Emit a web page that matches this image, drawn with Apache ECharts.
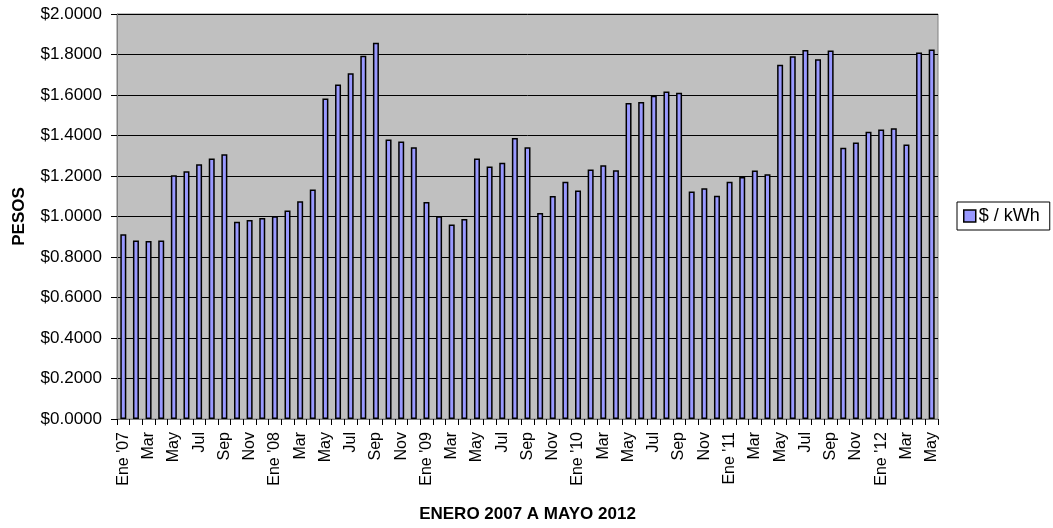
<!DOCTYPE html>
<html><head><meta charset="utf-8">
<script src="https://cdn.jsdelivr.net/npm/echarts@6/dist/echarts.min.js"></script>
<style>html,body{margin:0;padding:0;background:#fff}#c{width:1053px;height:528px}</style>
</head><body><div id="c"></div>
<script>
const categories = [
 "Ene '07","Feb","Mar","Abr","May","Jun","Jul","Ago","Sep","Oct","Nov","Dic",
 "Ene '08","Feb","Mar","Abr","May","Jun","Jul","Ago","Sep","Oct","Nov","Dic",
 "Ene '09","Feb","Mar","Abr","May","Jun","Jul","Ago","Sep","Oct","Nov","Dic",
 "Ene '10","Feb","Mar","Abr","May","Jun","Jul","Ago","Sep","Oct","Nov","Dic",
 "Ene '11","Feb","Mar","Abr","May","Jun","Jul","Ago","Sep","Oct","Nov","Dic",
 "Ene '12","Feb","Mar","Abr","May"
];
const pesosPerKWh = [
 0.912,0.882,0.879,0.882,1.204,1.223,1.258,1.286,1.307,0.974,0.983,0.993,
 1.001,1.030,1.075,1.133,1.583,1.652,1.708,1.794,1.858,1.380,1.370,1.342,
 1.072,1.001,0.960,0.988,1.286,1.247,1.266,1.388,1.342,1.017,1.101,1.171,
 1.128,1.232,1.253,1.228,1.561,1.566,1.596,1.617,1.611,1.123,1.139,1.103,
 1.172,1.195,1.227,1.209,1.749,1.791,1.822,1.777,1.820,1.339,1.365,1.418,
 1.430,1.436,1.355,1.810,1.825
];
const seriesName = '$ / kWh';
const yAxisName = 'PESOS';
const xAxisName = 'ENERO 2007 A MAYO 2012';
const FONT = "'Liberation Sans', Arial, sans-serif";

const chart = echarts.init(document.getElementById('c'));
chart.setOption({
  animation: false,
  textStyle: {fontFamily: FONT},
  grid: {left: 117, right: 115, top: 14, bottom: 109, show: true,
         backgroundColor: '#c0c0c0', borderColor: '#808080', borderWidth: 1},
  legend: {
    left: 957, top: 202, orient: 'vertical',
    borderColor: '#000', borderWidth: 1, padding: [5, 10, 5, 6],
    itemWidth: 12, itemHeight: 12,
    textStyle: {fontFamily: FONT, fontSize: 18, color: '#000', padding: [0,0,0,-2]},
    data: [{name: seriesName, icon: 'rect', itemStyle: {color: '#9999ff', borderColor: '#000', borderWidth: 1.5}}]
  },
  xAxis: {
    type: 'category', data: categories,
    name: xAxisName, nameLocation: 'middle', nameGap: 87,
    nameTextStyle: {fontFamily: FONT, fontSize: 17, fontWeight: 'bold', color: '#000'},
    axisLine: {lineStyle: {color: '#808080', width: 1}},
    axisTick: {show: true, interval: 0, length: 6, lineStyle: {color: '#000'}},
    axisLabel: {interval: 1, rotate: 90, fontFamily: FONT, fontSize: 16, color: '#000', margin: 13},
    splitLine: {show: false}
  },
  yAxis: {
    type: 'value', min: 0, max: 2, interval: 0.2,
    name: yAxisName, nameLocation: 'middle', nameGap: 89, nameRotate: 90,
    nameTextStyle: {fontFamily: FONT, fontSize: 17, fontWeight: 'bold', color: '#000'},
    axisLine: {show: true, lineStyle: {color: '#808080', width: 1}},
    axisTick: {show: true, length: 6, lineStyle: {color: '#000'}},
    axisLabel: {fontFamily: FONT, fontSize: 17, color: '#000', margin: 15,
      formatter: v => '$' + v.toFixed(4)},
    splitLine: {show: true, lineStyle: {color: '#000', width: 1}}
  },
  series: [{
    name: seriesName, type: 'bar', data: pesosPerKWh, barWidth: 6,
    itemStyle: {color: '#9999ff', borderColor: '#000', borderWidth: 1.5}
  }]
});
</script></body></html>
